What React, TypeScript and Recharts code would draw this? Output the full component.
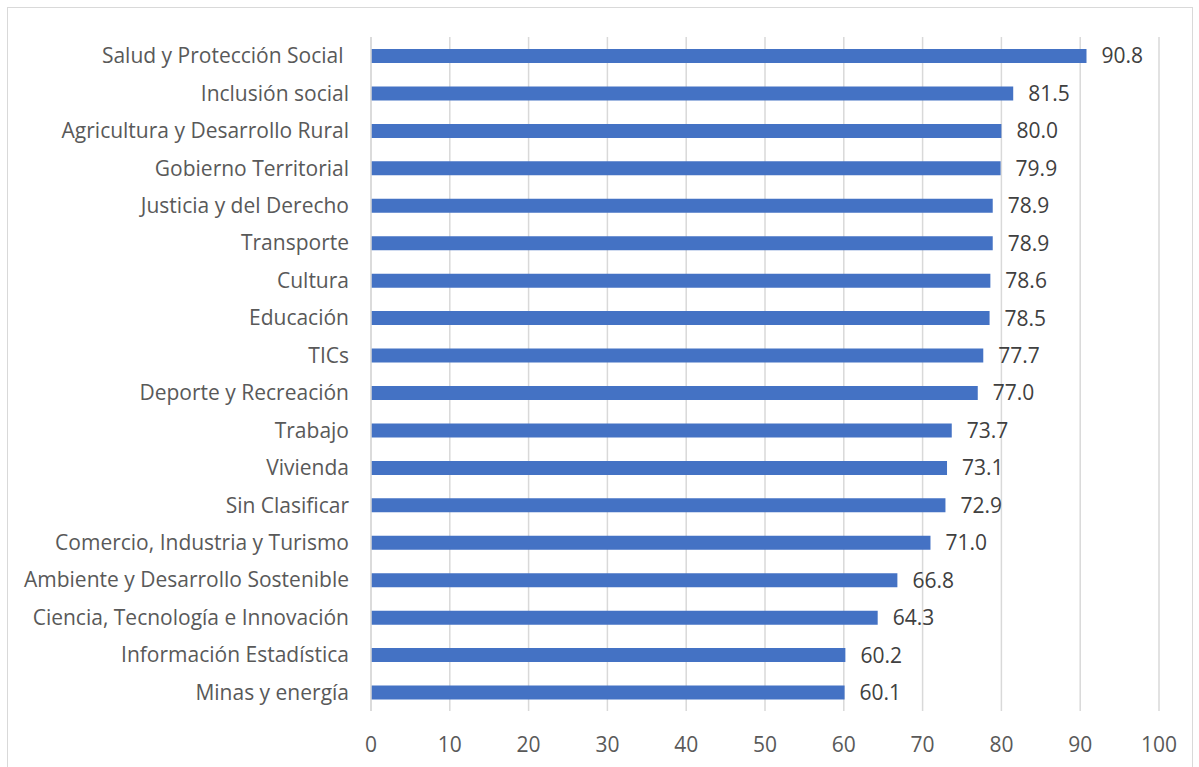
import { BarChart, Bar, XAxis, YAxis, CartesianGrid, LabelList } from 'recharts';

const sectors = [
    'Salud y Protección Social\u00a0',
    'Inclusión social',
    'Agricultura y Desarrollo Rural',
    'Gobierno Territorial',
    'Justicia y del Derecho',
    'Transporte',
    'Cultura',
    'Educación',
    'TICs',
    'Deporte y Recreación',
    'Trabajo',
    'Vivienda',
    'Sin Clasificar',
    'Comercio, Industria y Turismo',
    'Ambiente y Desarrollo Sostenible',
    'Ciencia, Tecnología e Innovación',
    'Información Estadística',
    'Minas y energía',
];

const scores = [90.8, 81.5, 80.0, 79.9, 78.9, 78.9, 78.6, 78.5, 77.7, 77.0, 73.7, 73.1, 72.9, 71.0, 66.8, 64.3, 60.2, 60.1];

const xTicks = [0, 10, 20, 30, 40, 50, 60, 70, 80, 90, 100];

const data = sectors.map((name, i) => ({ name, value: scores[i] }));

const font = '"Open Sans", sans-serif';

export default function App() {
    return (
        <div style={{ position: 'absolute', left: 0, top: 0, width: 1199, height: 767, background: '#fff', overflow: 'hidden', fontFamily: font }}>
            <div style={{ position: 'absolute', left: 7, top: 7, width: 1184, height: 800, border: '1.5px solid #d9d9d9' }} />
            <BarChart
                width={1199}
                height={767}
                data={data}
                layout="vertical"
                margin={{ top: 37, right: 40, left: 0, bottom: 0 }}
                barCategoryGap={0}
                style={{ position: 'absolute', left: 0, top: 0 }}
            >
                <CartesianGrid horizontal={false} stroke="#d9d9d9" strokeWidth={1.5} />
                <XAxis
                    type="number"
                    domain={[0, 100]}
                    ticks={xTicks}
                    axisLine={false}
                    tickLine={false}
                    height={56}
                    tickMargin={20}
                    tick={{ fill: '#595959', fontSize: 21, fontFamily: font }}
                />
                <YAxis
                    type="category"
                    dataKey="name"
                    width={371}
                    axisLine={{ stroke: '#d9d9d9', strokeWidth: 1.5 }}
                    tickLine={false}
                    tickMargin={16}
                    interval={0}
                    tick={{ fill: '#595959', fontSize: 21, fontFamily: font }}
                />
                <Bar dataKey="value" fill="#4472C4" barSize={14} isAnimationActive={false}>
                    <LabelList
                        dataKey="value"
                        position="right"
                        offset={15}
                        formatter={(v: number) => v.toFixed(1)}
                        style={{ fill: '#404040', fontSize: 21, fontFamily: font }}
                    />
                </Bar>
            </BarChart>
        </div>
    );
}
